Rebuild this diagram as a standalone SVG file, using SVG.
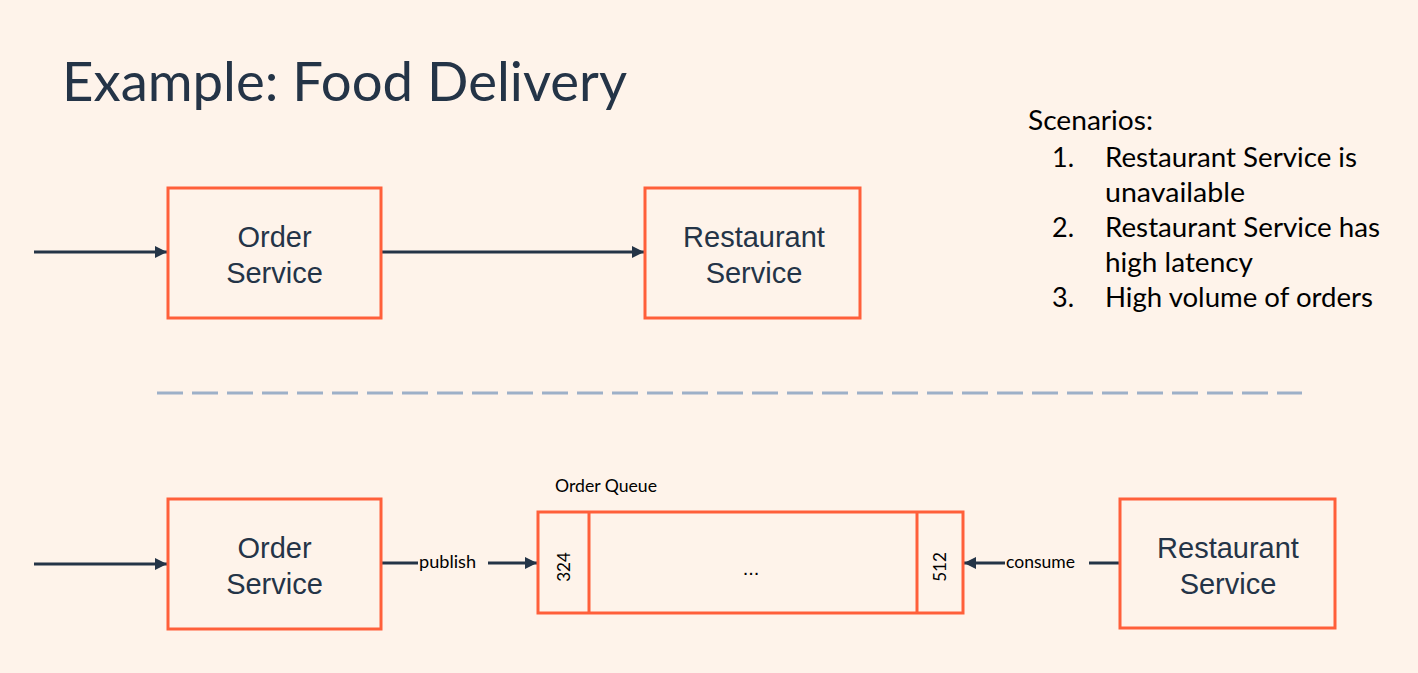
<svg xmlns="http://www.w3.org/2000/svg" width="1418" height="673" viewBox="0 0 1418 673">
<defs>
<style>
.bg{fill:#FEF3EA}
.box{fill:none;stroke:#FF5F3A;stroke-width:3}
.lbl{font-family:"Liberation Sans",Arial,sans-serif;font-size:29px;fill:#243447;text-anchor:middle}
.txt{font-family:Lato,"Open Sans",sans-serif;fill:#000}
.edge{stroke:#243447;stroke-width:3;fill:none}
.small{font-family:Lato,"Open Sans",sans-serif;font-size:17px;fill:#000}
</style>
<marker id="ah" viewBox="0 0 10 10" refX="10" refY="5" markerWidth="4" markerHeight="4" orient="auto" markerUnits="strokeWidth">
<path d="M0,0 L10,5 L0,10 z" fill="#243447"/>
</marker>
</defs>
<rect class="bg" x="0" y="0" width="1418" height="673"/>
<text x="62" y="101" font-family="Lato,'Open Sans',sans-serif" font-size="54" fill="#243447" textLength="565" lengthAdjust="spacingAndGlyphs">Example: Food Delivery</text>
<g id="scenarios" class="txt" font-size="27">
<text x="1028" y="130" textLength="125" lengthAdjust="spacingAndGlyphs">Scenarios:</text>
<text x="1052" y="167">1.</text>
<text x="1105" y="167" textLength="252" lengthAdjust="spacingAndGlyphs">Restaurant Service is</text>
<text x="1105" y="202" textLength="140" lengthAdjust="spacingAndGlyphs">unavailable</text>
<text x="1052" y="237">2.</text>
<text x="1105" y="237" textLength="275" lengthAdjust="spacingAndGlyphs">Restaurant Service has</text>
<text x="1105" y="272" textLength="148" lengthAdjust="spacingAndGlyphs">high latency</text>
<text x="1052" y="307">3.</text>
<text x="1105" y="307" textLength="268" lengthAdjust="spacingAndGlyphs">High volume of orders</text>
</g>
<line x1="157" y1="393" x2="1302" y2="393" stroke="#9DB0C8" stroke-width="3" stroke-dasharray="26 9"/>
<g id="connectors">
<line class="edge" x1="34" y1="252" x2="167" y2="252" marker-end="url(#ah)"/>
<line class="edge" x1="381" y1="252" x2="644" y2="252" marker-end="url(#ah)"/>
<line class="edge" x1="34" y1="564" x2="167" y2="564" marker-end="url(#ah)"/>
<line class="edge" x1="381" y1="563" x2="418" y2="563"/>
<text class="small" x="419" y="568" textLength="57" lengthAdjust="spacingAndGlyphs">publish</text>
<line class="edge" x1="488" y1="563" x2="537" y2="563" marker-end="url(#ah)"/>
<line class="edge" x1="1120" y1="563" x2="1089" y2="563"/>
<text class="small" x="1006" y="568" textLength="69" lengthAdjust="spacingAndGlyphs">consume</text>
<line class="edge" x1="1005" y1="563" x2="964" y2="563" marker-end="url(#ah)"/>
</g>
<g id="order-top">
<rect class="box" x="168" y="188" width="213" height="130"/>
<text class="lbl" x="274.5" y="247">Order</text>
<text class="lbl" x="274.5" y="283">Service</text>
</g>
<g id="restaurant-top">
<rect class="box" x="645" y="188" width="215" height="130"/>
<text class="lbl" x="754" y="247">Restaurant</text>
<text class="lbl" x="754" y="283">Service</text>
</g>
<g id="order-bottom">
<rect class="box" x="168" y="499" width="213" height="130"/>
<text class="lbl" x="274.5" y="558">Order</text>
<text class="lbl" x="274.5" y="594">Service</text>
</g>
<g id="order-queue">
<text class="small" x="555" y="492" textLength="102" lengthAdjust="spacingAndGlyphs">Order Queue</text>
<rect class="box" x="538" y="512" width="425" height="101"/>
<line class="box" x1="589" y1="512" x2="589" y2="613"/>
<line class="box" x1="917" y1="512" x2="917" y2="613"/>
<text class="small" x="0" y="0" text-anchor="middle" transform="translate(570 567) rotate(-90)">324</text>
<text class="small" x="0" y="0" text-anchor="middle" transform="translate(946 567) rotate(-90)">512</text>
<text x="751" y="575" text-anchor="middle" font-family="'Liberation Sans',Arial,sans-serif" font-size="20" fill="#000">...</text>
</g>
<g id="restaurant-bottom">
<rect class="box" x="1120" y="499" width="215" height="129"/>
<text class="lbl" x="1228" y="558">Restaurant</text>
<text class="lbl" x="1228" y="594">Service</text>
</g>
</svg>
